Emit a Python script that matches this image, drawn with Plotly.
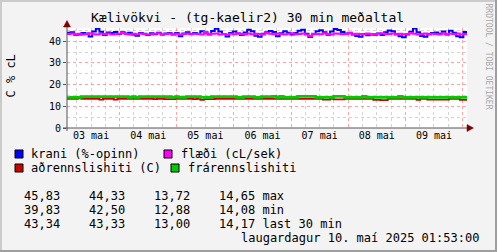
import plotly.graph_objects as go
import pandas as pd

# ---------------- data ----------------
t_start = "2025-05-03 01:53"
t_end = "2025-05-10 01:53"

krani = [44.0, 44.2, 43.0, 43.2, 43.8, 43.6, 42.2, 44.5, 45.8, 44.4,
         42.9, 44.1, 43.9, 44.3, 43.4, 44.2, 43.6, 44.0, 43.2, 42.6,
         43.8, 43.5, 42.9, 43.7, 43.3, 44.0, 43.1, 43.6, 43.9, 43.2,
         43.8, 42.3, 43.6, 44.2, 43.4, 43.9, 43.5, 44.6, 44.0, 43.1,
         44.8, 45.8, 44.5, 43.4, 42.2, 43.8, 44.5, 43.6, 42.9, 44.1,
         45.3, 44.7, 42.6, 42.1, 43.5, 44.2, 44.8, 44.3, 42.4, 43.7,
         44.6, 44.0, 43.2, 43.8, 44.9, 45.4, 43.5, 42.0, 43.3, 44.7,
         45.1, 44.2, 43.0, 44.5, 45.7, 45.2, 44.3, 43.6, 44.0, 43.1,
         42.5, 42.1, 43.4, 42.8, 43.2, 43.0, 43.6, 42.9, 44.2, 45.0,
         44.6, 43.3, 42.4, 41.9, 43.1, 44.4, 45.9, 44.2, 42.5, 42.1,
         43.3, 43.8, 44.1, 43.5, 44.5, 43.2, 44.9, 44.0, 42.3, 41.9,
         44.3, 43.3]

flaedi = [43.4, 43.6, 43.3, 43.5, 43.2, 43.4, 43.7, 43.3, 43.1, 43.5,
          43.4, 43.6, 43.2, 43.3, 43.5, 43.8, 43.4, 43.2, 43.5, 43.3,
          43.6, 43.4, 43.1, 43.3, 43.5, 43.7, 43.2, 43.4, 43.6, 43.3,
          43.5, 43.2, 43.4, 43.6, 43.3, 43.5, 43.4, 43.2, 44.3, 43.3,
          43.5, 43.6, 43.2, 43.4, 43.1, 43.5, 43.3, 43.7, 43.4, 43.2,
          43.6, 43.3, 43.5, 43.4, 43.2, 43.8, 43.5, 43.3, 43.6, 43.4,
          43.2, 43.5, 43.7, 43.3, 43.4, 43.6, 43.2, 42.5, 43.5, 43.4,
          43.3, 43.7, 43.4, 43.2, 43.6, 43.5, 43.3, 43.4, 43.8, 43.2,
          43.5, 43.4, 43.3, 43.6, 43.2, 43.4, 43.5, 43.7, 43.3, 43.4,
          43.6, 43.2, 43.5, 43.3, 43.4, 43.8, 43.5, 43.2, 43.4, 43.6,
          43.3, 43.5, 43.4, 43.2, 43.7, 43.3, 43.5, 43.4, 43.6, 43.2,
          43.4, 43.3]

adrennsli = [13.5, 13.5, 13.5, 13.7, 13.5, 13.5, 13.5, 13.5, 13.4, 13.1,
             13.4, 13.5, 13.5, 13.1, 13.5, 13.5, 13.5, 13.5, 13.5, 13.5,
             13.5, 13.5, 13.5, 13.5, 13.3, 13.5, 13.5, 13.3, 13.3, 13.3,
             13.5, 13.5, 13.5, 13.5, 13.5, 13.3, 13.4, 13.0, 13.3, 13.3,
             13.3, 13.4, 13.4, 13.4, 13.4, 13.4, 13.4, 13.4, 13.4, 13.4,
             13.4, 13.4, 13.4, 13.4, 13.4, 13.4, 13.4, 13.4, 13.4, 13.4,
             13.4, 13.4, 13.4, 13.4, 13.4, 13.4, 13.4, 13.4, 13.4, 13.4,
             13.4, 13.1, 13.1, 13.4, 13.2, 13.2, 13.2, 13.4, 13.4, 13.4,
             13.4, 13.4, 13.4, 13.4, 13.4, 13.0, 13.0, 12.9, 12.9, 13.4,
             13.4, 13.4, 13.4, 13.4, 13.4, 13.4, 13.4, 13.0, 13.4, 13.4,
             13.1, 13.1, 13.1, 13.1, 13.1, 13.1, 13.4, 13.4, 13.4, 13.0,
             13.0, 13.0]

frarennsli = [14.1, 14.15, 14.15, 14.15, 14.5, 14.5, 14.5, 14.5, 14.5, 14.5,
              14.5, 14.5, 14.5, 14.5, 14.5, 14.5, 14.5, 14.15, 14.5, 14.15,
              14.5, 14.5, 14.5, 14.5, 14.5, 14.5, 14.5, 14.5, 14.5, 14.15,
              14.5, 14.15, 14.15, 14.5, 14.5, 14.5, 14.5, 14.15, 14.15, 14.15,
              14.5, 14.5, 14.5, 14.5, 14.5, 14.5, 14.5, 14.15, 14.15, 14.5,
              14.5, 14.5, 14.15, 14.15, 14.5, 14.5, 14.5, 14.6, 14.15, 14.6,
              14.15, 14.15, 14.15, 14.15, 14.6, 14.6, 14.6, 14.6, 14.6, 14.15,
              14.15, 14.15, 14.15, 14.15, 14.6, 14.6, 14.6, 14.15, 14.15, 14.15,
              14.15, 14.15, 14.6, 14.15, 14.15, 14.15, 14.15, 14.15, 14.15, 14.15,
              14.15, 14.15, 14.6, 14.15, 14.15, 14.15, 14.15, 14.15, 14.15, 14.15,
              14.15, 14.15, 14.15, 14.15, 14.15, 14.15, 14.15, 14.15, 14.15, 14.15,
              14.15, 14.17]

series_names = ["krani (%-opinn)", "flæði (cL/sek)", "aðrennslishiti (C)", "frárennslishiti"]
series_colors = ["#0000FF", "#FF00FF", "#CC0000", "#00CC00"]

day_label_dates = ["2025-05-03 12:00", "2025-05-04 12:00", "2025-05-05 12:00", "2025-05-06 12:00",
                   "2025-05-07 12:00", "2025-05-08 12:00", "2025-05-09 12:00"]
day_labels = ["03 mai", "04 mai", "05 mai", "06 mai", "07 mai", "08 mai", "09 mai"]

stat_max = ["45,83", "44,33", "13,72", "14,65"]
stat_min = ["39,83", "42,50", "12,88", "14,08"]
stat_last = ["43,34", "43,33", "13,00", "14,17"]

title_text = "Kælivökvi - (tg-kaelir2) 30 min meðaltal"
ylabel = "C % cL"
date_text = "laugardagur 10. maí 2025 01:53:00"
watermark = "RRDTOOL / TOBI OETIKER"

# ---------------- figure ----------------
W, H = 497, 252
L, R, T, B = 67, 30, 28, 124
PW, PH = W - L - R, H - T - B
FONT = "DejaVu Sans Mono"


def px(xp):
    return (xp - L) / PW


def py(yp):
    return (H - B - yp) / PH


times = pd.date_range(t_start, t_end, periods=len(krani))

fig = go.Figure()
widths = [2, 2, 1.8, 2.6]
for vals, name, col, w in zip([krani, flaedi, adrennsli, frarennsli], series_names, series_colors, widths):
    fig.add_trace(go.Scatter(x=times, y=vals, mode="lines", line=dict(color=col, width=w, shape="hv"),
                             name=name, showlegend=False, hoverinfo="skip"))

# invisible trace carrying the day-label axis
fig.add_trace(go.Scatter(x=pd.to_datetime(day_label_dates), y=[0] * len(day_labels), xaxis="x2",
                         mode="markers", marker=dict(opacity=0), showlegend=False, hoverinfo="skip"))

major_grid = "rgba(255,90,90,0.55)"
minor_grid = "rgba(160,160,160,0.45)"

fig.update_layout(
    width=W, height=H,
    margin=dict(l=L, r=R, t=T, b=B, pad=0),
    paper_bgcolor="#F3F3F3",
    plot_bgcolor="#FFFFFF",
    font=dict(family=FONT, color="#000000", size=12),
    xaxis=dict(
        range=[t_start, t_end], type="date",
        tick0="2025-05-03 00:00", dtick=86400000,
        showgrid=True, gridcolor=major_grid, griddash="dot", gridwidth=1,
        minor=dict(tick0="2025-05-03 00:00", dtick=21600000, showgrid=True,
                   gridcolor=minor_grid, griddash="dot", gridwidth=1),
        showticklabels=False, ticks="", zeroline=False,
        showline=False,
    ),
    xaxis2=dict(
        range=[t_start, t_end], type="date", overlaying="x", anchor="y", side="bottom",
        tickvals=pd.to_datetime(day_label_dates), ticktext=day_labels,
        showgrid=False, ticks="", showline=False, zeroline=False,
        tickfont=dict(family=FONT, size=10, color="#000000"),
    ),
    yaxis=dict(
        range=[0, 46.15], tick0=0, dtick=10,
        showgrid=True, gridcolor=major_grid, griddash="dot", gridwidth=1,
        minor=dict(dtick=5, showgrid=True, gridcolor=minor_grid, griddash="dot", gridwidth=1),
        ticks="outside", ticklen=3, tickcolor="#555555",
        tickfont=dict(family=FONT, size=10, color="#000000"),
        zeroline=False, showline=False,
    ),
)

shapes = []
axis_col = "#555555"
arrow_col = "#7F0000"
# axis lines
shapes.append(dict(type="line", xref="paper", yref="paper", x0=px(L), x1=px(L), y0=py(131), y1=py(24),
                   line=dict(color=axis_col, width=1)))
shapes.append(dict(type="line", xref="paper", yref="paper", x0=px(63), x1=px(470), y0=py(128), y1=py(128),
                   line=dict(color=axis_col, width=1)))
# arrows
shapes.append(dict(type="path", xref="paper", yref="paper",
                   path=f"M {px(63.5)},{py(27)} L {px(70.5)},{py(27)} L {px(67)},{py(20.5)} Z",
                   fillcolor=arrow_col, line=dict(color=arrow_col, width=0.5)))
shapes.append(dict(type="path", xref="paper", yref="paper",
                   path=f"M {px(467)},{py(124.5)} L {px(467)},{py(131.5)} L {px(473.5)},{py(128)} Z",
                   fillcolor=arrow_col, line=dict(color=arrow_col, width=0.5)))
# frame (3D look)
shapes.append(dict(type="rect", xref="paper", yref="paper", x0=px(0), x1=px(W), y0=py(H), y1=py(H - 2),
                   fillcolor="#9E9E9E", line=dict(width=0)))
shapes.append(dict(type="rect", xref="paper", yref="paper", x0=px(W - 2), x1=px(W), y0=py(H), y1=py(0),
                   fillcolor="#9E9E9E", line=dict(width=0)))
shapes.append(dict(type="rect", xref="paper", yref="paper", x0=px(0), x1=px(W - 2), y0=py(2), y1=py(0),
                   fillcolor="#CBCBCB", line=dict(width=0)))
shapes.append(dict(type="rect", xref="paper", yref="paper", x0=px(0), x1=px(2), y0=py(H - 2), y1=py(0),
                   fillcolor="#CBCBCB", line=dict(width=0)))

annotations = []
# title
annotations.append(dict(text=title_text, xref="paper", yref="paper", x=px(247.5), y=py(18),
                        xanchor="center", yanchor="middle", showarrow=False,
                        font=dict(family=FONT, size=13, color="#000000")))
# y label
annotations.append(dict(text=ylabel, xref="paper", yref="paper", x=px(10.5), y=py(76),
                        xanchor="center", yanchor="middle", showarrow=False, textangle=-90,
                        font=dict(family=FONT, size=12, color="#000000")))
# watermark
annotations.append(dict(text=watermark, xref="paper", yref="paper", x=px(488.5), y=py(56),
                        xanchor="center", yanchor="middle", showarrow=False, textangle=90,
                        font=dict(family=FONT, size=8, color="#A8A8A8")))

# legend (rrdtool style)
legend_pos = [(15, 154, 30), (164, 154, 180), (15, 168, 30), (171, 168, 187)]
for (bx, by, tx), name, col in zip(legend_pos, series_names, series_colors):
    shapes.append(dict(type="rect", xref="paper", yref="paper", x0=px(bx), x1=px(bx + 8),
                       y0=py(by + 4), y1=py(by - 4), fillcolor=col, line=dict(color="#000000", width=1)))
    annotations.append(dict(text=name, xref="paper", yref="paper", x=px(tx - 1), y=py(by),
                            xanchor="left", yanchor="middle", showarrow=False,
                            font=dict(family=FONT, size=12, color="#000000")))

# stats rows
for row_y, vals, lab in [(196, stat_max, "max"), (210, stat_min, "min"), (224, stat_last, "last 30 min")]:
    line = "    ".join(vals) + " " + lab
    annotations.append(dict(text=line.replace(" ", "&nbsp;"), xref="paper", yref="paper", x=px(22), y=py(row_y),
                            xanchor="left", yanchor="middle", showarrow=False,
                            font=dict(family=FONT, size=12, color="#000000")))

annotations.append(dict(text=date_text, xref="paper", yref="paper", x=px(481), y=py(238),
                        xanchor="right", yanchor="middle", showarrow=False,
                        font=dict(family=FONT, size=12, color="#000000")))

fig.update_layout(shapes=shapes, annotations=annotations)
fig.write_html("out.html",
               config={"displayModeBar": False},
               post_script="document.body.style.margin='0px';document.body.style.padding='0px';"
                           "document.body.style.overflow='hidden';")
